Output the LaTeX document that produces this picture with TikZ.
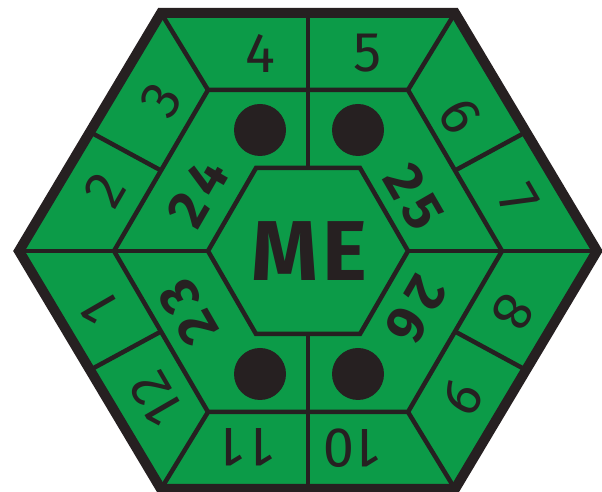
\documentclass[tikz,border=0pt]{standalone}
\usepackage{fontspec}
\setmainfont{Fira Sans}
\usetikzlibrary{calc}
\definecolor{hexgreen}{RGB}{12,155,72}
\definecolor{hexdark}{RGB}{38,32,33}
\begin{document}
\begin{tikzpicture}[x=1pt,y=1pt,
  divline/.style={draw=hexdark,line width=4.5pt},
  rimline/.style={draw=hexdark,line width=10pt},
  num/.style={text=hexdark,font=\fontsize{56}{56}\selectfont,inner sep=0pt},
  bignum/.style={text=hexdark,font=\fontsize{55}{55}\selectfont\bfseries,inner sep=0pt},
  metext/.style={text=hexdark,font=\fontsize{85}{85}\selectfont\bfseries,inner sep=0pt},
  hole/.style={fill=hexdark}]
\useasboundingbox (0,0) rectangle (602,492);
% outer hexagon
\coordinate (O1) at (597,241);
\coordinate (O2) at (455,479);
\coordinate (O3) at (161,479);
\coordinate (O4) at (19,241);
\coordinate (O5) at (161,3);
\coordinate (O6) at (455,3);
% middle hexagon
\coordinate (M1) at (502,241);
\coordinate (M2) at (408,402);
\coordinate (M3) at (208,402);
\coordinate (M4) at (114,241);
\coordinate (M5) at (208,80);
\coordinate (M6) at (408,80);
% inner hexagon
\coordinate (I1) at (408,241);
\coordinate (I2) at (360,324);
\coordinate (I3) at (256,324);
\coordinate (I4) at (208,241);
\coordinate (I5) at (256,158);
\coordinate (I6) at (360,158);

\fill[hexgreen] (O1)--(O2)--(O3)--(O4)--(O5)--(O6)--cycle;

% dividers
\draw[divline] (M1)--(M2)--(M3)--(M4)--(M5)--(M6)--cycle;
\draw[divline] (I1)--(I2)--(I3)--(I4)--(I5)--(I6)--cycle;
\draw[divline] (O4)--(I4);
\draw[divline] (I1)--(O1);
\draw[divline] ($(O2)!0.5!(O3)$)--($(I2)!0.5!(I3)$);
\draw[divline] ($(I5)!0.5!(I6)$)--($(O5)!0.5!(O6)$);
\draw[divline] (O2)--(M2);
\draw[divline] (O3)--(M3);
\draw[divline] (O5)--(M5);
\draw[divline] (O6)--(M6);
\draw[divline] ($(O1)!0.5!(O2)$)--($(M1)!0.5!(M2)$);
\draw[divline] ($(O3)!0.5!(O4)$)--($(M3)!0.5!(M4)$);
\draw[divline] ($(O4)!0.5!(O5)$)--($(M4)!0.5!(M5)$);
\draw[divline] ($(O6)!0.5!(O1)$)--($(M6)!0.5!(M1)$);

% holes
\fill[hole] (260,362) circle (26);
\fill[hole] (358,362) circle (26);
\fill[hole] (260,118) circle (26);
\fill[hole] (358,118) circle (26);

% outer ring numbers
\node[num] (n4) at (260,439) {4};
\node[num] (n5) at (368,439) {5};
\node[num,rotate=-60] (n6) at (460,376) {6};
\node[num,rotate=-60] (n7) at (519,292) {7};
\node[num,rotate=-120] (n8) at (513,180) {8};
\node[num,rotate=-120] (n9) at (462,95) {9};
\node[num,rotate=180] (n10) at (352,44) {1\kern2pt 0};
\node[num,rotate=180] (n11) at (247,45) {1\kern6pt 1};
\node[num,rotate=120] (n12) at (157,93) {1\kern2pt 2};
\node[num,rotate=120] (n1) at (100,183) {1};
\node[num,rotate=60] (n2) at (105,302) {2};
\node[num,rotate=60] (n3) at (161,392) {3};

% inner ring numbers
\node[bignum,rotate=60] (n24) at (198,299) {2\kern7pt 4};
\node[bignum,rotate=-60] (n25) at (414,295) {2\kern7pt 5};
\node[bignum,rotate=-120] (n26) at (416,182) {2\kern7pt 6};
\node[bignum,rotate=120] (n23) at (188,180) {2\kern7pt 3};

\node[metext] (me) at (309,241) {M\kern4pt E};

% rim
\draw[rimline] (O1)--(O2)--(O3)--(O4)--(O5)--(O6)--cycle;
\end{tikzpicture}
\end{document}
